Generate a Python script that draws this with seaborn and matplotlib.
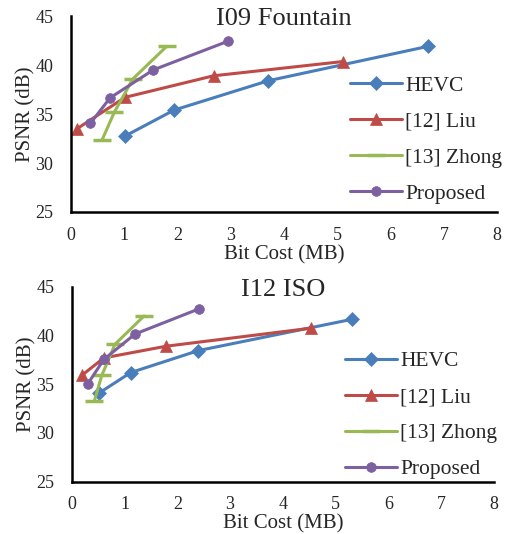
import matplotlib
matplotlib.use("Agg")
import matplotlib.pyplot as plt
import seaborn as sns
import pandas as pd

sns.set_style("white")
plt.rcParams['font.family'] = ['Liberation Serif', 'DejaVu Serif']

series_names = ["HEVC", "[12] Liu", "[13] Zhong", "Proposed"]
colors = ["#4A7EBB", "#BE4B48", "#98B954", "#7D60A0"]
markers = ["D", "^", "_", "o"]
msizes = [7, 8.5, 13, 7]

# I09 Fountain
fountain_x = {
    "HEVC": [1.02, 1.94, 3.71, 6.70],
    "[12] Liu": [0.12, 1.02, 2.68, 5.10],
    "[13] Zhong": [0.585, 0.82, 1.17, 1.80],
    "Proposed": [0.37, 0.74, 1.55, 2.96],
}
fountain_y = {
    "HEVC": [32.75, 35.4, 38.4, 41.9],
    "[12] Liu": [33.5, 36.7, 38.9, 40.35],
    "[13] Zhong": [32.3, 35.2, 38.6, 41.9],
    "Proposed": [34.05, 36.65, 39.5, 42.45],
}
# I12 ISO
iso_x = {
    "HEVC": [0.52, 1.12, 2.40, 5.30],
    "[12] Liu": [0.19, 0.61, 1.79, 4.53],
    "[13] Zhong": [0.43, 0.57, 0.82, 1.37],
    "Proposed": [0.30, 0.61, 1.20, 2.42],
}
iso_y = {
    "HEVC": [34.1, 36.2, 38.45, 41.65],
    "[12] Liu": [35.9, 37.7, 38.9, 40.75],
    "[13] Zhong": [33.3, 35.9, 39.1, 42.0],
    "Proposed": [35.0, 37.55, 40.15, 42.75],
}
titles = ["I09 Fountain", "I12 ISO"]
x_ticks = [0, 1, 2, 3, 4, 5, 6, 7, 8]
y_ticks = [25, 30, 35, 40, 45]

fig = plt.figure(figsize=(5.12, 5.34), dpi=100)
ax1 = fig.add_axes([0.138, 0.603, 0.833, 0.367])
ax2 = fig.add_axes([0.140, 0.098, 0.825, 0.365])

legend_anchor = [(1.032, 0.37), (1.028, 0.34)]

for ax, xs, ys, title, anc in [(ax1, fountain_x, fountain_y, titles[0], legend_anchor[0]),
                               (ax2, iso_x, iso_y, titles[1], legend_anchor[1])]:
    for name, c, m, ms in zip(series_names, colors, markers, msizes):
        df = pd.DataFrame({"x": xs[name], "y": ys[name]})
        sns.lineplot(data=df, x="x", y="y", ax=ax, color=c, marker=m,
                     markersize=ms, linewidth=2.2, sort=False, label=name,
                     markeredgecolor=c, markerfacecolor=c,
                     markeredgewidth=2.5 if m == "_" else 0.5)
    ax.set_xlim(0, 8)
    ax.set_ylim(25, 45)
    ax.set_xticks(x_ticks)
    ax.set_yticks(y_ticks)
    ax.tick_params(axis='x', labelsize=13, length=0, pad=10.5)
    ax.tick_params(axis='y', labelsize=13, length=0, pad=12.5)
    ax.set_xlabel("Bit Cost (MB)", fontsize=15, labelpad=1)
    ax.set_ylabel("PSNR (dB)", fontsize=15, labelpad=0)
    ax.text(0.5, 0.985, title, transform=ax.transAxes, ha='center', va='center',
            fontsize=19)
    for s in ["top", "right"]:
        ax.spines[s].set_visible(False)
    for s in ["left", "bottom"]:
        ax.spines[s].set_color("black")
        ax.spines[s].set_linewidth(1.8)
    ax.legend(loc='center right', bbox_to_anchor=anc, frameon=False,
              fontsize=15.5, handlelength=2.4, handletextpad=0.15,
              labelspacing=0.74, borderaxespad=0)

fig.savefig("out.png", dpi=100)
